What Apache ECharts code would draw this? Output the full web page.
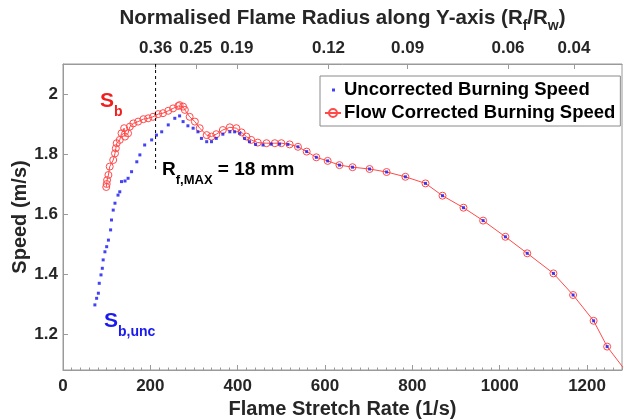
<!DOCTYPE html>
<html>
<head>
<meta charset="utf-8">
<script src="https://cdn.jsdelivr.net/npm/echarts@6/dist/echarts.min.js"></script>
<style>
html, body { margin: 0; padding: 0; background: #ffffff; }
#chart { width: 624px; height: 420px; }
</style>
</head>
<body>
<div id="chart"></div>
<script>
// Uncorrected burning speed (early, densely sampled part), stretch rate in 1/s, speed in m/s
const uncRates = [73, 77, 81, 83, 87, 90, 92, 96, 100, 104, 109, 111, 115, 119, 126, 130, 134, 142, 149, 157,
  169, 176, 187, 203, 214, 226, 241, 256, 267, 275, 286, 298, 309, 317, 329, 340, 351, 366, 382, 393,
  405, 416, 427, 441, 458, 477, 496, 515, 538];
const uncSpeeds = [1.297, 1.319, 1.336, 1.369, 1.397, 1.419, 1.447, 1.474, 1.491, 1.513, 1.547, 1.58, 1.613, 1.636, 1.663, 1.674, 1.708, 1.71, 1.719, 1.741,
  1.774, 1.797, 1.83, 1.847, 1.863, 1.874, 1.897, 1.919, 1.927, 1.908, 1.894, 1.886, 1.874, 1.852, 1.841, 1.841, 1.852, 1.866, 1.874, 1.874,
  1.869, 1.852, 1.841, 1.832, 1.83, 1.833, 1.833, 1.832, 1.824];

// Flow corrected burning speed (early part)
const corRates = [99, 100, 101, 104, 107, 115, 119, 121, 123, 130, 134, 140, 142, 149, 153, 161, 172, 184, 195, 206,
  218, 229, 241, 252, 264, 267, 275, 279, 290, 302, 313, 329, 340, 351, 366, 382, 397, 409, 420, 431,
  446, 466, 485, 500, 519, 538];
const corSpeeds = [1.69, 1.70, 1.713, 1.73, 1.758, 1.78, 1.802, 1.819, 1.836, 1.847, 1.869, 1.886, 1.858, 1.869, 1.891, 1.902, 1.908, 1.916, 1.919, 1.924,
  1.933, 1.936, 1.944, 1.952, 1.96, 1.963, 1.958, 1.947, 1.924, 1.908, 1.886, 1.863, 1.858, 1.866, 1.88, 1.889, 1.886, 1.872, 1.858, 1.847,
  1.838, 1.836, 1.836, 1.836, 1.832, 1.824];

// Later part, where both speeds coincide
const tailRates = [558, 580, 606, 633, 663, 702, 741, 784, 830, 869, 917, 962, 1013, 1063, 1123, 1168, 1215, 1246];
const tailSpeeds = [1.808, 1.789, 1.777, 1.763, 1.756, 1.75, 1.74, 1.724, 1.702, 1.661, 1.621, 1.578, 1.524, 1.469, 1.402, 1.33, 1.244, 1.158];

// Last corrected sample lies just beyond the plotted stretch-rate range
const corEndRates = [1292];
const corEndSpeeds = [1.07];

// Stretch rate at the maximum flame radius (R_f,MAX = 18 mm)
const rMaxRate = 212;
const rMaxLineSpeeds = [2.1, 1.75];

// Axis ticks
const xTickValues = [0, 200, 400, 600, 800, 1000, 1200];
const yTickValues = [1.2, 1.4, 1.6, 1.8, 2.0];
const topTickRates = [212, 304, 398, 608, 789, 1019, 1170];
const topTickLabels = ['0.36', '0.25', '0.19', '0.12', '0.09', '0.06', '0.04'];

const X_MIN = 0, X_MAX = 1280, Y_MIN = 1.08, Y_MAX = 2.1;

function pairs(xs, ys) { return xs.map((x, i) => [x, ys[i]]); }

const uncData = pairs(uncRates.concat(tailRates), uncSpeeds.concat(tailSpeeds));
const corData = pairs(corRates.concat(tailRates, corEndRates), corSpeeds.concat(tailSpeeds, corEndSpeeds));
const rMaxData = pairs([rMaxRate, rMaxRate], rMaxLineSpeeds);

// minor tick positions on the stretch-rate axis (every 20 1/s)
const minorTicks = [];
for (let v = 0; v <= X_MAX; v += 20) minorTicks.push(v);

const FONT = 'Liberation Sans, Arial, sans-serif';
const AXIS_COLOR = '#9a9a9a';
const TEXT_COLOR = '#262626';
const BLUE = '#1414f0';
const RED = '#ff4a4a';

const dotIcon = 'image://data:image/svg+xml;utf8,' + encodeURIComponent(
  '<svg xmlns="http://www.w3.org/2000/svg" width="16" height="10"><rect x="7" y="3.5" width="3" height="3" fill="' + BLUE + '"/></svg>');

const chart = echarts.init(document.getElementById('chart'), null, { renderer: 'canvas' });

chart.setOption({
  animation: false,
  backgroundColor: '#ffffff',
  textStyle: { fontFamily: FONT },
  grid: {
    left: 63, right: 2, top: 64, bottom: 50,
    outerBoundsMode: 'none', containLabel: false,
    show: true, borderColor: AXIS_COLOR, borderWidth: 1, backgroundColor: 'transparent'
  },
  legend: {
    orient: 'vertical',
    left: 320,
    top: 76,
    padding: [4, 5, 3, 4],
    itemGap: 3,
    itemWidth: 16,
    itemHeight: 10,
    borderColor: '#8a8a8a',
    borderWidth: 1,
    backgroundColor: '#ffffff',
    textStyle: { fontFamily: FONT, fontWeight: 'bold', fontSize: 18.5, color: '#000000', padding: [0, 0, 0, -2], lineHeight: 20 },
    data: [
      { name: 'Uncorrected Burning Speed', icon: dotIcon },
      { name: 'Flow Corrected Burning Speed' }
    ]
  },
  xAxis: [
    {
      type: 'value', position: 'bottom', min: X_MIN, max: X_MAX,
      name: 'Flame Stretch Rate (1/s)', nameLocation: 'middle', nameGap: 27,
      nameTextStyle: { fontFamily: FONT, fontWeight: 'bold', fontSize: 20, color: TEXT_COLOR },
      axisLine: { show: true, lineStyle: { color: AXIS_COLOR } },
      axisTick: { show: true, inside: true, length: 5, customValues: xTickValues, lineStyle: { color: AXIS_COLOR } },
      axisLabel: {
        customValues: xTickValues, formatter: (v) => String(v),
        fontFamily: FONT, fontWeight: 'bold', fontSize: 17, color: TEXT_COLOR, margin: 8
      },
      splitLine: { show: false }
    },
    {
      type: 'value', position: 'top', min: X_MIN, max: X_MAX,
      name: 'Normalised Flame Radius along Y-axis (R{sub|f}/R{sub|w})', nameLocation: 'middle', nameGap: 31,
      nameTextStyle: {
        fontFamily: FONT, fontWeight: 'bold', fontSize: 20.5, color: TEXT_COLOR, lineHeight: 30, verticalAlign: 'bottom',
        rich: { sub: { fontFamily: FONT, fontWeight: 'bold', fontSize: 14, color: TEXT_COLOR, lineHeight: 30, verticalAlign: 'bottom' } }
      },
      axisLine: { show: true, lineStyle: { color: AXIS_COLOR } },
      axisTick: { show: true, inside: true, length: 5, customValues: topTickRates, lineStyle: { color: AXIS_COLOR } },
      axisLabel: {
        customValues: topTickRates,
        formatter: (v) => { const i = topTickRates.indexOf(v); return i >= 0 ? topTickLabels[i] : ''; },
        fontFamily: FONT, fontWeight: 'bold', fontSize: 17, color: TEXT_COLOR, margin: 7
      },
      splitLine: { show: false }
    },
    {
      type: 'value', position: 'bottom', min: X_MIN, max: X_MAX,
      axisLine: { show: false },
      axisTick: { show: true, inside: true, length: 2.5, customValues: minorTicks, lineStyle: { color: AXIS_COLOR } },
      axisLabel: { show: false },
      splitLine: { show: false }
    }
  ],
  yAxis: {
    type: 'value', min: Y_MIN, max: Y_MAX,
    name: 'Speed (m/s)', nameLocation: 'middle', nameGap: 33, nameRotate: 90, nameMoveOverlap: false,
    nameTextStyle: { fontFamily: FONT, fontWeight: 'bold', fontSize: 20, color: TEXT_COLOR },
    axisLine: { show: true, lineStyle: { color: AXIS_COLOR } },
    axisTick: { show: true, inside: true, length: 5, customValues: yTickValues, lineStyle: { color: AXIS_COLOR } },
    axisLabel: {
      customValues: yTickValues, formatter: (v) => String(Math.round(v * 10) / 10),
      fontFamily: FONT, fontWeight: 'bold', fontSize: 17, color: TEXT_COLOR, margin: 5
    },
    splitLine: { show: false }
  },
  series: [
    {
      name: 'Flow Corrected Burning Speed',
      type: 'line',
      xAxisIndex: 0,
      data: corData,
      symbol: 'circle',
      symbolSize: 7,
      showAllSymbol: true,
      clip: true,
      lineStyle: { color: RED, width: 1 },
      itemStyle: { color: 'rgba(255,255,255,0)', borderColor: RED, borderWidth: 1 },
      z: 2,
      silent: true
    },
    {
      name: 'Uncorrected Burning Speed',
      type: 'scatter',
      xAxisIndex: 0,
      data: uncData,
      symbol: 'rect',
      symbolSize: 3,
      itemStyle: { color: BLUE },
      z: 3,
      silent: true
    },
    {
      name: 'rmax',
      type: 'line',
      xAxisIndex: 0,
      data: rMaxData,
      symbol: 'none',
      lineStyle: { color: '#000000', width: 1, type: [3, 3] },
      z: 4,
      silent: true
    }
  ],
  graphic: [
    {
      type: 'text', x: 100, y: 91, z: 10,
      style: {
        text: '{m|S}{s|b}',
        rich: {
          m: { fontFamily: FONT, fontWeight: 'bold', fontSize: 21, fill: '#f01e1e', lineHeight: 28, verticalAlign: 'top' },
          s: { fontFamily: FONT, fontWeight: 'bold', fontSize: 14, fill: '#f01e1e', lineHeight: 28, verticalAlign: 'bottom' }
        }
      }
    },
    {
      type: 'text', x: 104, y: 311, z: 10,
      style: {
        text: '{m|S}{s|b,unc}',
        rich: {
          m: { fontFamily: FONT, fontWeight: 'bold', fontSize: 21, fill: '#1a1af0', lineHeight: 28, verticalAlign: 'top' },
          s: { fontFamily: FONT, fontWeight: 'bold', fontSize: 14, fill: '#1a1af0', lineHeight: 28, verticalAlign: 'bottom' }
        }
      }
    },
    {
      type: 'text', x: 162, y: 160, z: 10,
      style: {
        text: '{m|R}{s|f,MAX}{m| = 18 mm}',
        rich: {
          m: { fontFamily: FONT, fontWeight: 'bold', fontSize: 19, fill: '#000000', lineHeight: 27, verticalAlign: 'top' },
          s: { fontFamily: FONT, fontWeight: 'bold', fontSize: 13, fill: '#000000', lineHeight: 27, verticalAlign: 'bottom' }
        }
      }
    }
  ]
});
</script>
</body>
</html>
